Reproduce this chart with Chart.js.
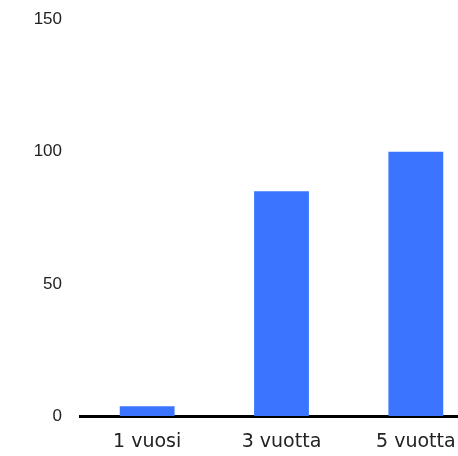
<!DOCTYPE html>
<html>
<head>
<meta charset="utf-8">
<script src="https://cdn.jsdelivr.net/npm/chart.js@4"></script>
<style>
  html, body { margin: 0; padding: 0; background: #fff; overflow: hidden; }
  #wrap { width: 483px; height: 456px; }
</style>
</head>
<body>
<div id="wrap"><canvas id="chart"></canvas></div>
<script>
// Data
var categories = ['1 vuosi', '3 vuotta', '5 vuotta'];
var values = [3.7, 85, 100];
var yTicks = [0, 50, 100, 150];

var ctx = document.getElementById('chart').getContext('2d');

var myChart = new Chart(ctx, {
    type: 'bar',
    data: {
        labels: categories,
        datasets: [{
            data: values,
            backgroundColor: '#3b74ff',
            borderWidth: 0,
            barPercentage: 0.51,
            categoryPercentage: 0.8
        }]
    },
    options: {
        responsive: true,
        maintainAspectRatio: false,
        animation: false,
        layout: { padding: { top: 19.5, right: 0, left: 0, bottom: 0 } },
        plugins: { legend: { display: false }, tooltip: { enabled: false } },
        scales: {
            x: {
                grid: { display: false, drawTicks: false },
                border: { display: true, color: '#000', width: 3 },
                ticks: {
                    color: '#222',
                    padding: 15,
                    font: { family: 'DejaVu Sans', size: 19 }
                },
                afterFit: function (scale) {
                    scale.height = 40;
                    scale.paddingLeft = 0;
                    scale.paddingRight = 0;
                }
            },
            y: {
                min: 0,
                max: 150,
                afterBuildTicks: function (scale) {
                    scale.ticks = yTicks.map(function (v) { return { value: v }; });
                },
                grid: { display: false, drawTicks: false },
                border: { display: false },
                ticks: {
                    color: '#222',
                    padding: 18,
                    font: { family: 'Liberation Sans', size: 17 }
                },
                afterFit: function (scale) {
                    scale.width = 80;
                    scale.paddingTop = 0;
                    scale.paddingBottom = 0;
                }
            }
        }
    }
});
</script>
</body>
</html>
